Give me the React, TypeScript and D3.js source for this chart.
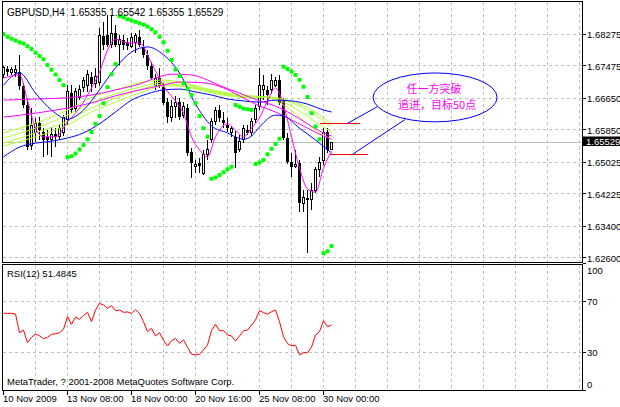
import React from "react";
import * as d3 from "d3";

// GBPUSD H4 bars
const opens = [1.6724,1.6739,1.6731,1.6729,1.6731,1.6696,1.6648,1.6544,1.6577,1.6602,1.6579,1.6567,1.6559,1.6574,1.6569,1.6579,1.6610,1.6678,1.6640,1.6666,1.6693,1.6696,1.6719,1.6701,1.6706,1.6823,1.6825,1.6800,1.6830,1.6800,1.6813,1.6805,1.6797,1.6805,1.6820,1.6795,1.6775,1.6747,1.6696,1.6716,1.6693,1.6655,1.6615,1.6643,1.6655,1.6622,1.6640,1.6529,1.6493,1.6501,1.6475,1.6521,1.6559,1.6605,1.6635,1.6610,1.6597,1.6579,1.6567,1.6534,1.6559,1.6584,1.6577,1.6610,1.6643,1.6686,1.6686,1.6686,1.6698,1.6711,1.6660,1.6564,1.6503,1.6491,1.6501,1.6399,1.6412,1.6407,1.6432,1.6483,1.6508,1.6579,1.65355];
const highs = [1.6747,1.6747,1.6744,1.6749,1.6775,1.6704,1.6660,1.6640,1.6615,1.6617,1.6589,1.6584,1.6592,1.6589,1.6597,1.6622,1.6698,1.6698,1.6691,1.6698,1.6719,1.6737,1.6731,1.6742,1.6843,1.6858,1.6876,1.6876,1.6851,1.6825,1.6825,1.6818,1.6830,1.6830,1.6838,1.6813,1.6787,1.6757,1.6726,1.6742,1.6704,1.6666,1.6660,1.6671,1.6666,1.6655,1.6650,1.6539,1.6508,1.6513,1.6534,1.6559,1.6615,1.6643,1.6648,1.6630,1.6615,1.6595,1.6582,1.6572,1.6597,1.6597,1.6615,1.6648,1.6742,1.6724,1.6696,1.6726,1.6719,1.6724,1.6666,1.6577,1.6526,1.6534,1.6508,1.6432,1.6432,1.6450,1.6491,1.6516,1.6589,1.6589,1.65542];
const lows = [1.6716,1.6721,1.6724,1.6719,1.6686,1.6640,1.6534,1.6534,1.6554,1.6559,1.6516,1.6521,1.6516,1.6541,1.6559,1.6569,1.6597,1.6627,1.6630,1.6660,1.6681,1.6681,1.6681,1.6691,1.6696,1.6787,1.6795,1.6792,1.6795,1.6748,1.6787,1.6787,1.6792,1.6780,1.6795,1.6767,1.6737,1.6711,1.6686,1.6691,1.6648,1.6602,1.6605,1.6615,1.6610,1.6615,1.6518,1.6463,1.6475,1.6475,1.6470,1.6508,1.6551,1.6597,1.6605,1.6589,1.6579,1.6567,1.6488,1.6529,1.6551,1.6572,1.6569,1.6602,1.6635,1.6660,1.6648,1.6676,1.6693,1.6648,1.6559,1.6498,1.6465,1.6488,1.6376,1.6376,1.6272,1.6381,1.6425,1.6465,1.6496,1.6526,1.65355];
const closes = [1.6742,1.6731,1.6737,1.6739,1.6696,1.6648,1.6541,1.6595,1.6602,1.6584,1.6559,1.6559,1.6574,1.6567,1.6589,1.6615,1.6681,1.6635,1.6681,1.6686,1.6711,1.6724,1.6701,1.6721,1.6823,1.6800,1.6800,1.6830,1.6800,1.6813,1.6800,1.6797,1.6820,1.6825,1.6800,1.6775,1.6747,1.6716,1.6714,1.6696,1.6653,1.6617,1.6643,1.6655,1.6617,1.6645,1.6526,1.6501,1.6498,1.6493,1.6521,1.6534,1.6607,1.6635,1.6615,1.6602,1.6589,1.6587,1.6526,1.6554,1.6589,1.6577,1.6605,1.6640,1.6698,1.6698,1.6673,1.6711,1.6711,1.6653,1.6564,1.6503,1.6491,1.6498,1.6399,1.6412,1.6407,1.6432,1.6483,1.6501,1.6579,1.6534,1.65529];

// Parabolic SAR, one dot per bar
const sar = [1.6828,1.6821,1.6816,1.6811,1.6807,1.6804,1.6797,1.6790,1.6780,1.6772,1.6764,1.6749,1.6737,1.6725,1.6711,1.6698,
  1.6515,1.6518,1.6525,1.6535,1.6546,1.6561,1.6579,1.6600,1.6620,1.6652,1.6693,1.6726,1.6752,
  1.6873,1.6870,1.6865,1.6862,1.6859,1.6855,1.6851,1.6847,1.6840,1.6832,1.6821,1.6807,1.6785,1.6762,1.6738,1.6721,1.6703,1.6688,1.6673,1.6652,1.6620,1.6589,1.6567,
  1.6461,1.6464,1.6470,1.6477,1.6485,1.6491,
  1.6648,1.6643,1.6639,1.6637,1.6635,
  1.6498,1.6502,1.6508,1.6523,1.6537,1.6549,1.6562,
  1.6745,1.6739,1.6733,1.6724,1.6712,1.6694,1.6668,1.6627,1.6593,1.6561,
  1.6272,1.6277,1.6290];

// RSI(12)
const rsi = [60.8,60.8,60.8,60.3,45.5,47.6,37.6,41.8,44.4,43.1,40.8,41.8,44.1,44.7,45.5,48.2,58.2,52.1,57.9,56.1,59.2,61.6,54.2,63.4,68.7,67.4,64.8,66.9,62.9,63.4,61.6,61.9,60.8,63.9,60.8,54.2,46.3,48.9,42.9,45.5,39.7,35.0,39.2,41.0,37.1,39.7,34.0,28.5,28.0,28.5,31.9,35.8,47.1,52.1,47.1,47.1,43.7,42.9,38.9,42.9,47.1,47.6,51.6,55.5,62.9,61.4,60.1,62.1,63.4,54.2,42.3,36.8,35.2,35.5,28.0,29.7,29.7,34.0,43.7,46.3,55.0,50.3,51.4845];

// moving averages, sampled at bar indices
const fastMagIdx = [0,4,6,8,10,13,16,19,22,24,26,28,31,34,37,40,43,45,47,49,51,53,56,58,60,62,64,66,68,70,72,74,76,78,80,82];
const fastMag = [1.6716,1.6724,1.6660,1.6589,1.6567,1.6567,1.6605,1.6640,1.6691,1.6731,1.6787,1.6815,1.6805,1.6805,1.6754,1.6696,1.6658,1.6627,1.6567,1.6534,1.6516,1.6567,1.6600,1.6584,1.6567,1.6589,1.6615,1.6658,1.6691,1.6648,1.6567,1.6488,1.6435,1.6427,1.6488,1.6531];
const fastBlueIdx = [0,4,8,12,16,20,24,28,32,36,40,44,48,52,56,60,62,64,68,70,74,78,82];
const fastBlue = [1.6698,1.6729,1.6678,1.6635,1.6612,1.6635,1.6686,1.6742,1.6782,1.6795,1.6775,1.6729,1.6650,1.6595,1.6577,1.6561,1.6569,1.6592,1.6622,1.6620,1.6589,1.6559,1.6526];
const slowBlueIdx = [0,4,8,12,16,20,24,28,32,36,40,44,48,52,56,60,64,68,72,76,80,82];
const slowBlue = [1.6516,1.6541,1.6551,1.6556,1.6564,1.6577,1.6600,1.6630,1.6660,1.6676,1.6686,1.6688,1.6681,1.6673,1.6663,1.6658,1.6655,1.6660,1.6658,1.6650,1.6635,1.6630];
const slowMagIdx = [0,8,16,22,28,34,38,42,47,51,55,59,64,68,72,76,80,82];
const slowMagA = [1.6660,1.6663,1.6666,1.6673,1.6686,1.6701,1.6716,1.6726,1.6724,1.6711,1.6693,1.6678,1.6658,1.6645,1.6625,1.6600,1.6577,1.6569];
const slowMagBIdx = [0,8,16,22,28,34,40,44,50,55,59,64,68,72,76,80,82];
const slowMagB = [1.6617,1.6627,1.6640,1.6653,1.6671,1.6686,1.6698,1.6706,1.6704,1.6691,1.6671,1.6645,1.6630,1.6610,1.6589,1.6569,1.6561];
const greenIdx = [0,8,16,22,28,34,40,44,50,56,62,66,70,74,78,82];
const green1 = [1.6577,1.6602,1.6635,1.6666,1.6686,1.6704,1.6711,1.6706,1.6691,1.6678,1.6671,1.6666,1.6648,1.6617,1.6584,1.6561];
const green2 = [1.6564,1.6589,1.6622,1.6653,1.6676,1.6693,1.6706,1.6704,1.6688,1.6676,1.6668,1.6668,1.6655,1.6633,1.6605,1.6579];
const green3 = [1.6551,1.6577,1.6607,1.6640,1.6666,1.6686,1.6701,1.6698,1.6686,1.6673,1.6668,1.6668,1.6660,1.6645,1.6622,1.6592];
const green4 = [1.6544,1.6567,1.6597,1.6630,1.6655,1.6678,1.6696,1.6696,1.6683,1.6671,1.6666,1.6668,1.6663,1.6650,1.6630,1.6600];

// axis labels
const priceTicks = [1.68275, 1.67475, 1.6665, 1.6585, 1.65025, 1.64225, 1.634, 1.626];
const rsiTicks = [100, 70, 30, 0];
const timeIdx = [0, 16, 32, 48, 64, 80];
const timeLabels = ["10 Nov 2009", "13 Nov 08:00", "18 Nov 00:00", "20 Nov 16:00", "25 Nov 08:00", "30 Nov 00:00"];

// hand-drawn objects: [bar from, bar to, price]
const redLines = [[79.1, 89.1, 1.6600], [81.6, 91.1, 1.6521]];
// [bar, price, bar, price]
const callouts = [[85.8, 1.6600, 93.4, 1.6643], [87.0, 1.6521, 100.4, 1.6611]];
const bubble = { bar: 107.9, price: 1.6667, barRadius: 15.5, priceRadius: 0.0062 };
const bubbleText = ["任一方突破", "追进，目标50点"];

const FONT = "'Liberation Sans', Arial, sans-serif";
const GRID = "#c0c0c0";

export default function App() {
  const x = d3.scaleLinear().domain([0, 145]).range([3.5, 583.5]);
  const y = d3.scaleLinear().domain([1.62496, 1.6914]).range([262, 0]);
  const yr = d3.scaleLinear().domain([0, 100]).range([390.25, 263.75]);
  const px = (v: number) => Math.floor(v) + 0.5;

  const maPath = (idx: number[], vals: number[]) =>
    d3.line<number>().x((_, k) => x(idx[k])).y((v) => y(v)).curve(d3.curveMonotoneX)(vals) || "";
  const rsiPath = d3.line<number>().x((_, i) => x(i)).y((v) => yr(v))(rsi) || "";

  const gridX = d3.range(8, 145, 8);
  const last = closes.length - 1;
  const lastY = y(closes[last]);

  const bx = x(bubble.bar);
  const by = y(bubble.price);
  const brx = x(bubble.bar + bubble.barRadius) - bx;
  const bry = y(bubble.price - bubble.priceRadius) - by;

  return (
    <div style={{ position: "fixed", left: 0, top: 0, width: 620, height: 407, background: "#fff" }}>
      <svg width={620} height={407} style={{ display: "block" }} fontFamily={FONT}>
        <defs>
          <clipPath id="mainClip"><rect x={2.5} y={1.5} width={580} height={261} /></clipPath>
          <clipPath id="rsiClip"><rect x={2.5} y={264.5} width={580} height={126} /></clipPath>
        </defs>
        <rect width={620} height={407} fill="#fff" />

        {/* grid */}
        <g shapeRendering="crispEdges">
          {gridX.map((g) => (
            <g key={g}>
              <line x1={x(g)} x2={x(g)} y1={2} y2={262} stroke={GRID} strokeDasharray="3,3" />
              <line x1={x(g)} x2={x(g)} y1={265} y2={390} stroke={GRID} strokeDasharray="3,3" />
            </g>
          ))}
          {priceTicks.map((p) => (
            <line key={p} x1={3} x2={582} y1={px(y(p))} y2={px(y(p))} stroke={GRID} strokeDasharray="3,3" />
          ))}
          {[70, 30].map((v) => (
            <line key={v} x1={3} x2={582} y1={px(yr(v))} y2={px(yr(v))} stroke={GRID} strokeDasharray="3,3" />
          ))}
          <line x1={3} x2={582} y1={px(lastY)} y2={px(lastY)} stroke={GRID} />
        </g>

        <g clipPath="url(#mainClip)">
          {/* candles */}
          <g shapeRendering="crispEdges">
            {closes.map((c, i) => {
              const o = opens[i];
              const cx = x(i);
              const top = y(Math.max(o, c));
              const bot = y(Math.min(o, c));
              const up = c >= o;
              return (
                <g key={i}>
                  <line x1={cx} x2={cx} y1={y(highs[i])} y2={y(lows[i])} stroke="#000" />
                  {up ? (
                    <rect x={cx - 1} y={top} width={2} height={Math.max(1, bot - top)} fill="#fff" stroke="#000" />
                  ) : (
                    <rect x={cx - 1.5} y={top} width={3} height={Math.max(1, bot - top)} fill="#000" />
                  )}
                </g>
              );
            })}
          </g>

          {/* averages */}
          {[green1, green2, green3, green4].map((g, k) => (
            <path key={k} d={maPath(greenIdx, g)} fill="none" stroke="#adff2f" />
          ))}
          <path d={maPath(slowBlueIdx, slowBlue)} fill="none" stroke="#0000ff" />
          <path d={maPath(slowMagIdx, slowMagA)} fill="none" stroke="#ff00ff" />
          <path d={maPath(slowMagBIdx, slowMagB)} fill="none" stroke="#ff00ff" />
          <path d={maPath(fastBlueIdx, fastBlue)} fill="none" stroke="#0000ff" />
          <path d={maPath(fastMagIdx, fastMag)} fill="none" stroke="#ff00ff" />

          {/* parabolic SAR */}
          {sar.map((s, i) => (
            <rect key={i} x={x(i) - 2} y={y(s) - 2} width={4} height={4} rx={1} fill="#00ff00" />
          ))}

          {/* drawn objects */}
          {redLines.map(([a, b, p], k) => (
            <line key={k} x1={x(a)} x2={x(b)} y1={px(y(p))} y2={px(y(p))} stroke="#ff0000"
              strokeWidth={1.5} shapeRendering="crispEdges" />
          ))}
          {callouts.map(([a, pa, b, pb], k) => (
            <line key={k} x1={x(a)} y1={y(pa)} x2={x(b)} y2={y(pb)} stroke="#0000ff" />
          ))}
          <ellipse cx={bx} cy={by} rx={brx} ry={bry} fill="none" stroke="#0000ff" />
          <text x={bx - 1} y={by - 9} fill="#ff00ff" fontSize={11} textAnchor="middle" dominantBaseline="central"
            fontFamily="'Noto Sans CJK SC', sans-serif">{bubbleText[0]}</text>
          <text x={bx + 2} y={by + 7} fill="#ff00ff" fontSize={11} textAnchor="middle" dominantBaseline="central"
            fontFamily="'Noto Sans CJK SC', sans-serif">{bubbleText[1]}</text>
        </g>

        <g clipPath="url(#rsiClip)">
          <path d={rsiPath} fill="none" stroke="#ff0000" />
        </g>

        {/* frames */}
        <g shapeRendering="crispEdges">
          <rect x={2.5} y={1.5} width={580} height={261} fill="none" stroke="#000" />
          <rect x={2.5} y={264.5} width={580} height={126} fill="none" stroke="#000" />
        </g>

        {/* price axis */}
        {priceTicks.map((p) => (
          <g key={p}>
            <line x1={583} x2={586} y1={px(y(p))} y2={px(y(p))} stroke="#000" shapeRendering="crispEdges" />
            <text x={587} y={y(p) + 0.5} fontSize={9.5} dominantBaseline="central">{p.toFixed(5)}</text>
          </g>
        ))}
        <rect x={583} y={Math.round(lastY) - 5.5} width={37} height={9.5} fill="#000" />
        <text x={586} y={Math.round(lastY) - 0.7} fontSize={9.5} fill="#fff" dominantBaseline="central">
          {closes[last].toFixed(5)}
        </text>

        {/* rsi axis */}
        {rsiTicks.map((v) => {
          const yy = v === 100 ? yr(v) + 6.5 : v === 0 ? yr(v) - 6 : yr(v);
          return (
            <g key={v}>
              <line x1={583} x2={586} y1={px(yr(v))} y2={px(yr(v))} stroke="#000" shapeRendering="crispEdges" />
              <text x={587} y={yy} fontSize={9.5} dominantBaseline="central">{v}</text>
            </g>
          );
        })}

        {/* time axis */}
        {timeIdx.map((t, k) => (
          <g key={t}>
            <line x1={px(x(t))} x2={px(x(t))} y1={391} y2={395} stroke="#000" shapeRendering="crispEdges" />
            <text x={x(t) - 0.5} y={401.5} fontSize={9.5}>{timeLabels[k]}</text>
          </g>
        ))}

        <text x={7} y={15.5} fontSize={10} style={{ whiteSpace: "pre" }}>
          {`GBPUSD,H4  ${opens[last].toFixed(5)} ${highs[last].toFixed(5)} ${lows[last].toFixed(5)} ${closes[last].toFixed(5)}`}
        </text>
        <text x={7} y={277} fontSize={9.5} style={{ whiteSpace: "pre" }}>{`RSI(12) ${rsi[last]}`}</text>
        <text x={7} y={384.5} fontSize={9.5}>MetaTrader, ? 2001-2008 MetaQuotes Software Corp.</text>
      </svg>
    </div>
  );
}
